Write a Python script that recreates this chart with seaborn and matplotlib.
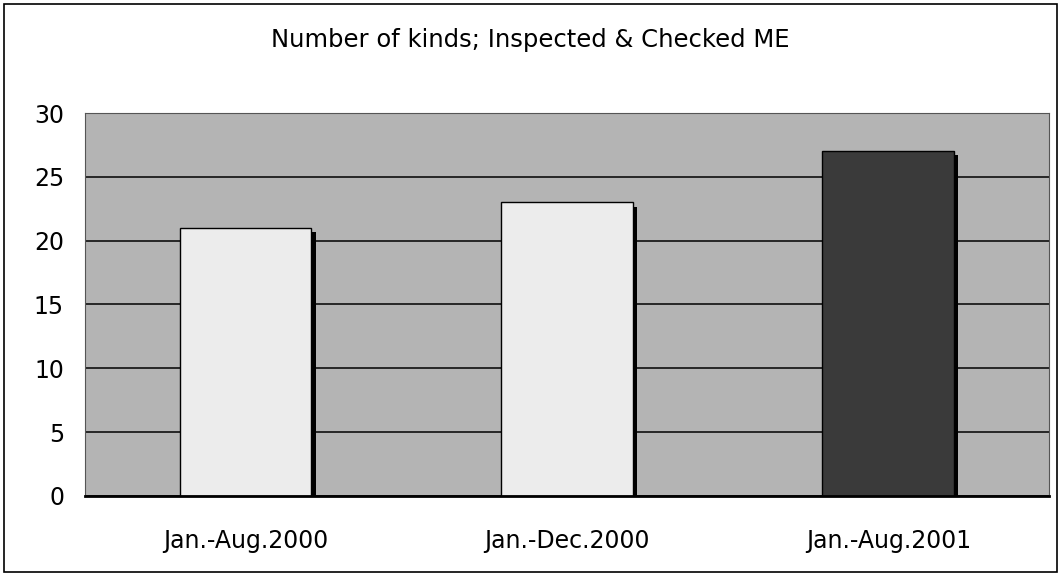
import matplotlib
matplotlib.use("Agg")
import matplotlib.pyplot as plt
import matplotlib.patheffects as pe
import seaborn as sns
import pandas as pd

# data
periods = ["Jan.-Aug.2000", "Jan.-Dec.2000", "Jan.-Aug.2001"]
kinds = [21, 23, 27]
bar_colors = ["#ececec", "#ececec", "#3a3a3a"]
yticks = [0, 5, 10, 15, 20, 25, 30]

df = pd.DataFrame({"period": periods, "kinds": kinds})

sns.set_style("white")
plt.rcParams["font.family"] = ["DejaVu Sans"]
plt.rcParams["text.color"] = "black"
plt.rcParams["xtick.color"] = "black"
plt.rcParams["ytick.color"] = "black"

fig = plt.figure(figsize=(10.61, 5.79), dpi=100)
ax = fig.add_axes([0.080, 0.1434, 0.9087, 0.6614])

# figure border
fig.patches.append(plt.Rectangle((0.004, 0.012), 0.992, 0.981, transform=fig.transFigure,
                                 fill=False, edgecolor="black", linewidth=1.2))

ax.set_facecolor("#b4b4b4")
ax.set_axisbelow(True)
ax.yaxis.grid(True, color="black", linewidth=1.1)

sns.barplot(data=df, x="period", y="kinds", hue="period", palette=bar_colors,
            legend=False, width=0.41, edgecolor="black", linewidth=1.0,
            saturation=1, ax=ax)

for p in ax.patches:
    p.set_path_effects([pe.SimplePatchShadow(offset=(3, -3), shadow_rgbFace="black", alpha=1),
                        pe.Normal()])

ax.set_ylim(0, 30)
ax.set_yticks(yticks)
ax.set_xlabel("")
ax.set_ylabel("")
ax.tick_params(axis="both", length=0, labelsize=17, labelcolor="black")
ax.tick_params(axis="x", pad=24)
ax.tick_params(axis="y", pad=15)

for side in ["top", "right", "left"]:
    ax.spines[side].set_color("#555555")
    ax.spines[side].set_linewidth(0.8)
ax.spines["bottom"].set_color("black")
ax.spines["bottom"].set_linewidth(2)

fig.text(0.5, 0.931, "Number of kinds; Inspected & Checked ME", ha="center", va="center",
         fontsize=17.5, color="black")

fig.savefig("out.png", dpi=100)
